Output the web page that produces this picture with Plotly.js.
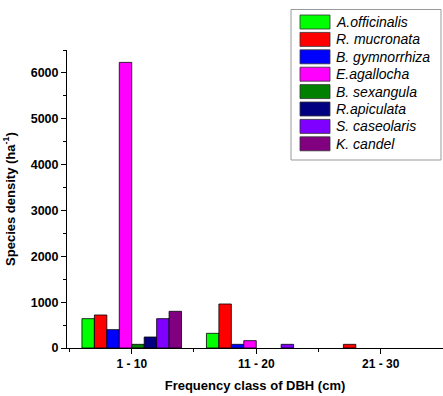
<!DOCTYPE html>
<html><head><meta charset="utf-8">
<script src="https://cdn.plot.ly/plotly-3.0.1.min.js"></script>
<style>html,body{margin:0;padding:0;background:#fff;}#chart{width:443px;height:396px;}</style>
</head><body><div id="chart"></div>
<script>
const categories = ["1 - 10", "11 - 20", "21 - 30"];
const species = ["A.officinalis", "R. mucronata", "B. gymnorrhiza", "E.agallocha", "B. sexangula", "R.apiculata", "S. caseolaris", "K. candel"];
const colors = ["#00ff00", "#ff0000", "#0000ff", "#ff00ff", "#008000", "#000080", "#8000ff", "#800080"];
const aOfficinalis = [640, 320, 0];
const rMucronata = [720, 960, 80];
const bGymnorrhiza = [400, 80, 0];
const eAgallocha = [6230, 160, 0];
const bSexangula = [80, 0, 0];
const rApiculata = [240, 0, 0];
const sCaseolaris = [640, 80, 0];
const kCandel = [800, 0, 0];
const series = [aOfficinalis, rMucronata, bGymnorrhiza, eAgallocha, bSexangula, rApiculata, sCaseolaris, kCandel];

const W = 443, H = 396;
const M = {l: 67, r: 0, t: 50, b: 48};
const pw = W - M.l - M.r, ph = H - M.t - M.b;
const px = x => (x - M.l) / pw;
const py = y => (H - M.b - y) / ph;

const xpos = categories.map((c, i) => i);
const traces = series.map((vals, k) => ({
  type: 'bar', name: species[k], x: xpos, y: vals.map(v => v === 0 ? null : v),
  marker: {color: colors[k], line: {color: '#000', width: 0.8}}, showlegend: false
}));

// custom legend (boxed, with wide swatches)
const shapes = [{type: 'rect', xref: 'paper', yref: 'paper', x0: px(291), x1: px(441), y0: py(9.5), y1: py(160),
  line: {color: '#999', width: 1}, fillcolor: '#fff', layer: 'above'}];
const annotations = [];
species.forEach((s, i) => {
  const top = 15 + 17.4 * i;
  shapes.push({type: 'rect', xref: 'paper', yref: 'paper', x0: px(300), x1: px(330), y0: py(top), y1: py(top + 14),
    line: {color: '#333', width: 0.8}, fillcolor: colors[i], layer: 'above'});
  annotations.push({xref: 'paper', yref: 'paper', x: px(334), y: py(top + 7), xanchor: 'left', yanchor: 'middle',
    text: s, showarrow: false, font: {size: 14, style: 'italic', family: 'Liberation Sans, Arial, sans-serif', color: '#000'}});
});

const layout = {
  width: W, height: H,
  margin: M,
  paper_bgcolor: '#fff', plot_bgcolor: '#fff',
  barmode: 'group', bargap: 0.2, bargroupgap: 0,
  font: {family: 'Liberation Sans, Arial, sans-serif', color: '#000'},
  showlegend: false,
  shapes: shapes, annotations: annotations,
  xaxis: {
    range: [-0.52, 2.5], tickvals: xpos, ticktext: categories,
    showline: true, linecolor: '#000', linewidth: 1, showgrid: false, zeroline: false,
    ticks: 'outside', ticklen: 5, tickcolor: '#000',
    minor: {dtick: 0.5, tick0: 0, ticks: 'outside', ticklen: 3, tickcolor: '#000', showgrid: false},
    tickfont: {size: 12, weight: 'bold'},
    title: {text: 'Frequency class of DBH (cm)', font: {size: 13, weight: 'bold'}, standoff: 10},
    automargin: false, fixedrange: true
  },
  yaxis: {
    range: [0, 6500], dtick: 1000, tick0: 0,
    showline: true, linecolor: '#000', linewidth: 1, showgrid: false, zeroline: false,
    ticks: 'outside', ticklen: 5, tickcolor: '#000',
    minor: {dtick: 500, ticks: 'outside', ticklen: 3, tickcolor: '#000', showgrid: false},
    tickfont: {size: 12.5, weight: 'bold'},
    title: {text: 'Species density (ha<sup>-1</sup>)', font: {size: 13, weight: 'bold'}, standoff: 12},
    automargin: false, fixedrange: true
  }
};
Plotly.newPlot('chart', traces, layout, {displayModeBar: false, staticPlot: true});
</script></body></html>
